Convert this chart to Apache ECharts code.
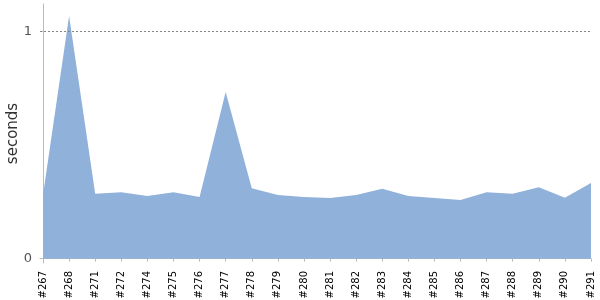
<!DOCTYPE html>
<html>
<head>
<meta charset="utf-8">
<script src="https://cdn.jsdelivr.net/npm/echarts@6/dist/echarts.min.js"></script>
<style>html,body{margin:0;padding:0;background:#fff}#c{width:600px;height:300px}</style>
</head>
<body>
<div id="c"></div>
<script>
var builds = ['#267','#268','#271','#272','#274','#275','#276','#277','#278','#279','#280','#281','#282','#283','#284','#285','#286','#287','#288','#289','#290','#291'];
var seconds = [0.28,1.067,0.286,0.292,0.276,0.292,0.271,0.733,0.31,0.28,0.271,0.267,0.28,0.307,0.276,0.267,0.258,0.292,0.286,0.314,0.268,0.333];
var yTicks = [0, 1];

var idx = builds.map(function(_, i){ return i; });
var data = seconds.map(function(v, i){ return [i, v]; });

var chart = echarts.init(document.getElementById('c'));
chart.setOption({
  animation: false,
  grid: { left: 40, right: 9, top: 4, bottom: 37, containLabel: false, outerBoundsMode: 'none' },
  xAxis: {
    type: 'value', min: -0.115, max: builds.length - 1,
    axisLine: { show: true, lineStyle: { color: '#bbbbbb', width: 1 } },
    axisTick: { show: true, customValues: idx, length: 3, lineStyle: { color: '#bbbbbb' } },
    splitLine: { show: false },
    axisLabel: {
      customValues: idx, rotate: 90, margin: 8,
      fontFamily: 'DejaVu Sans', fontSize: 10, color: '#000',
      formatter: function(v){ return builds[Math.round(v)]; }
    }
  },
  yAxis: {
    type: 'value', min: -0.019, max: 1.12,
    name: 'seconds', nameLocation: 'middle', nameGap: 19, nameMoveOverlap: false,
    nameTextStyle: { fontFamily: 'DejaVu Sans', fontSize: 15, color: '#333' },
    axisLine: { show: true, lineStyle: { color: '#bbbbbb', width: 1 } },
    axisTick: { show: true, customValues: yTicks, length: 3, inside: false, lineStyle: { color: '#bbbbbb' } },
    axisLabel: { customValues: yTicks, margin: 8, fontFamily: 'DejaVu Sans', fontSize: 13, color: '#555' },
    splitLine: { show: false }
  },
  series: [{
    type: 'line', data: data, symbol: 'none', smooth: false,
    lineStyle: { width: 0, color: '#8fb1da' },
    areaStyle: { color: '#8fb1da', opacity: 1, origin: 0 },
    markLine: {
      silent: true, symbol: 'none', label: { show: false },
      lineStyle: { type: [2, 2], color: '#888', width: 1 },
      data: [{ yAxis: 1 }]
    },
    z: 2
  }]
});
</script>
</body>
</html>
